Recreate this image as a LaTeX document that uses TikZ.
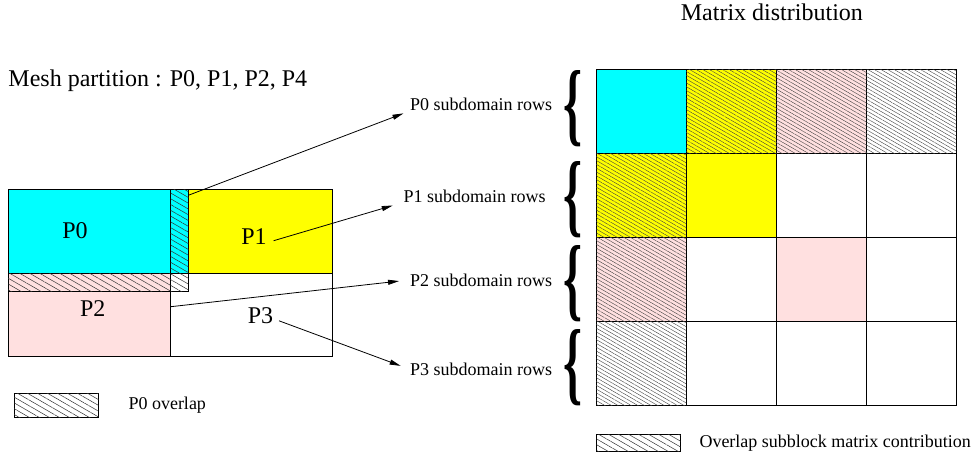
\documentclass[tikz,border=0pt]{standalone}
\usepackage{fontspec}
\setmainfont{Liberation Serif}
\usepackage{graphicx}
\usetikzlibrary{positioning,arrows.meta,patterns.meta}

\definecolor{pzero}{RGB}{0,255,255}
\definecolor{pone}{RGB}{255,255,0}
\definecolor{ptwo}{RGB}{255,224,224}

\begin{document}
\begin{tikzpicture}[
  x=1pt, y=-1pt,
  big/.style={font=\fontsize{24}{28}\selectfont, inner sep=0pt},
  small/.style={font=\fontsize{18}{21}\selectfont, inner sep=0pt},
  region/.style={draw, line width=0.8pt, anchor=north west, inner sep=0pt,
                 outer sep=0pt},
  hatch/.style={postaction={pattern={Lines[angle=-30,distance=5pt,
                line width=0.5pt]}, pattern color=black!80}},
  fhatch/.style={pattern={Lines[angle=-30,distance=3.3pt,
                line width=0.4pt]}, pattern color=black!75},
  cell/.style={draw, line width=0.8pt, minimum width=90pt,
               minimum height=84pt, inner sep=0pt, outer sep=0pt},
  >={Triangle[length=11pt,width=5pt]},
  ln/.style={->, line width=0.8pt},
]
\useasboundingbox (0,0) rectangle (974,464);

% titles
\node[big, anchor=base west] (mtitle) at (8.3,86.7)
     {Mesh partition : P0, P1, P2, P4};
\node[big, anchor=base west] (xtitle) at (680.7,20) {Matrix distribution};

% mesh partition
\node[region, minimum width=162pt, minimum height=83.4pt] (p3) at (170.7,273.3) {};
\node[region, fill=pzero, minimum width=162.7pt, minimum height=84pt] (p0) at (8,189.3) {};
\node[region, fill=pone, minimum width=144.4pt, minimum height=84pt] (p1) at (188.3,189.3) {};
\node[region, fill=ptwo, minimum width=162.7pt, minimum height=65.4pt] (p2) at (8,291.3) {};
\node[region, fill=pzero, hatch, minimum width=17.6pt, minimum height=84pt] (ovv) at (170.7,189.3) {};
\node[region, fill=white, hatch, minimum width=17.6pt, minimum height=18pt] (ovc) at (170.7,273.3) {};
\node[region, fill=ptwo, hatch, minimum width=162.7pt, minimum height=18pt] (ovh) at (8,273.3) {};

\node[big] (l0) at (75,231) {P0};
\node[big] (l1) at (254,236.7) {P1};
\node[big] (l2) at (92.7,308.3) {P2};
\node[big] (l3) at (260.5,315.7) {P3};

% row labels
\node[small, anchor=base west] (r0) at (410,110.5) {P0 subdomain rows};
\node[small, anchor=base west] (r1) at (403.3,202) {P1 subdomain rows};
\node[small, anchor=base west] (r2) at (410,286) {P2 subdomain rows};
\node[small, anchor=base west] (r3) at (410,375.5) {P3 subdomain rows};

\draw[ln, shorten >=7pt] ([yshift=-6pt]ovv.north east) -- (r0.south west);
\draw[ln, shorten <=7pt, shorten >=11pt] ([yshift=-6pt]l1.east) -- (r1.south west);
\draw[ln, shorten >=11pt] ([yshift=17.3pt]p2.east) -- (r2.west);
\draw[ln, shorten <=6pt, shorten >=10pt] ([yshift=-3pt]l3.east) -- (r3.west);

% braces
\foreach \yb [count=\i] in {109,199.7,283.5,368}
  \node[inner sep=0pt] (b\i) at (573,\yb) {\resizebox{19pt}{64pt}{\bfseries\{}};

% matrix distribution
\foreach \r/\c/\col in {0/0/pzero, 0/1/pone, 0/2/ptwo, 0/3/white,
    1/0/pone, 1/1/pone, 1/2/white, 1/3/white,
    2/0/ptwo, 2/1/white, 2/2/ptwo, 2/3/white,
    3/0/white, 3/1/white, 3/2/white, 3/3/white}
  \node[cell, anchor=north west, fill=\col] (m-\r-\c) at (596+90*\c,69.3+84*\r) {};
\foreach \m in {m-0-1, m-0-2, m-0-3, m-1-0, m-2-0, m-3-0}
  \path[fhatch] (\m.north west) rectangle (\m.south east);

% legends
\node[region, fill=white, hatch, minimum width=84.3pt, minimum height=24pt] (lg0) at (14,393.3) {};
\node[small, anchor=west] (lt0) at (128.3,405.3) {P0 overlap};
\node[region, fill=white, hatch, minimum width=84pt, minimum height=17.4pt] (lg1) at (596.7,434.3) {};
\node[small, anchor=west] (lt1) at (699.3,443) {Overlap subblock matrix contribution};
\end{tikzpicture}
\end{document}
